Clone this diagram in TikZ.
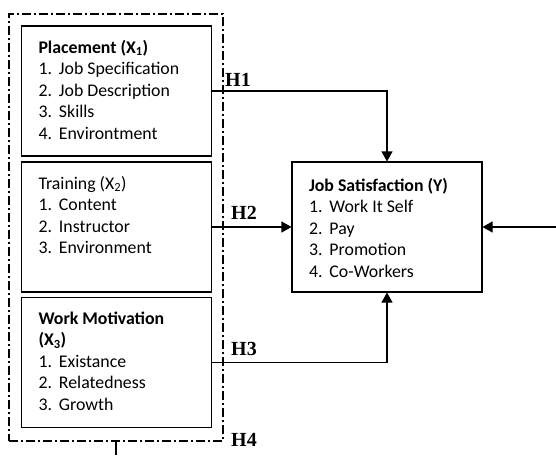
\documentclass[tikz,border=0pt]{standalone}
\usepackage{fontspec}
\setmainfont{Carlito}
\newfontfamily\hfont{Liberation Serif}
\usetikzlibrary{arrows.meta,positioning}

% numbered item and top-aligned box contents
\newcommand{\itm}[1]{\makebox[20.5pt][l]{#1.}}
\newcommand{\boxtext}[2][102pt]{\parbox[c][#1][t]{156pt}{\fontsize{17.8}{21.5}\selectfont #2}}

\tikzset{
  varbox/.style={draw, line width=1.1pt, minimum width=190pt, minimum height=130pt, inner sep=0pt},
  groupframe/.style={draw, line width=1.1pt, dash pattern=on 9pt off 3pt on 2pt off 3pt,
    minimum width=214pt, minimum height=427pt, inner sep=0pt},
  hlabel/.style={font=\hfont\bfseries\fontsize{20}{20}\selectfont, anchor=west, inner sep=0pt},
  link/.style={line width=1.1pt, -{Triangle[length=10pt,width=11pt]}}
}

\begin{document}
\begin{tikzpicture}[x=1pt,y=-1pt]
  \useasboundingbox (0,0) rectangle (556,455);

  % dash-dot frame round the three independent variables
  \node[groupframe] (group) at (116,227.5) {};

  \node[varbox] (place) at (116.5,91) {\boxtext{%
    \textbf{Placement (X\textsubscript{1})}\\
    \itm{1}Job Specification\\
    \itm{2}Job Description\\
    \itm{3}Skills\\
    \itm{4}Environtment}};
  \node[varbox] (train) at (116.5,227) {\boxtext{%
    Training (X\textsubscript{2})\\
    \itm{1}Content\\
    \itm{2}Instructor\\
    \itm{3}Environment}};
  \node[varbox] (motiv) at (116.5,362.5) {\boxtext{%
    \textbf{Work Motivation}\\
    \textbf{(X\textsubscript{3})}\\
    \itm{1}Existance\\
    \itm{2}Relatedness\\
    \itm{3}Growth}};

  % dependent variable
  \node[varbox] (js) at (387,227) {\boxtext[98pt]{%
    \textbf{Job Satisfaction (Y)}\\
    \itm{1}Work It Self\\
    \itm{2}Pay\\
    \itm{3}Promotion\\
    \itm{4}Co-Workers}};

  \coordinate (ext) at (556,227);
  \coordinate (tick) at (116,455);

  \draw[link] (place.east) -| (js.north);
  \draw[link] (train.east) -- (js.west);
  \draw[link] (motiv.east) -| (js.south);
  \draw[link] (ext) -- (js.east);
  \draw[line width=1.1pt] (group.south) -- (tick);

  \node[hlabel] (h1) at (225,80) {H1};
  \node[hlabel] (h2) at (231,213) {H2};
  \node[hlabel] (h3) at (231,349) {H3};
  \node[hlabel] (h4) at (231,440) {H4};
\end{tikzpicture}
\end{document}
